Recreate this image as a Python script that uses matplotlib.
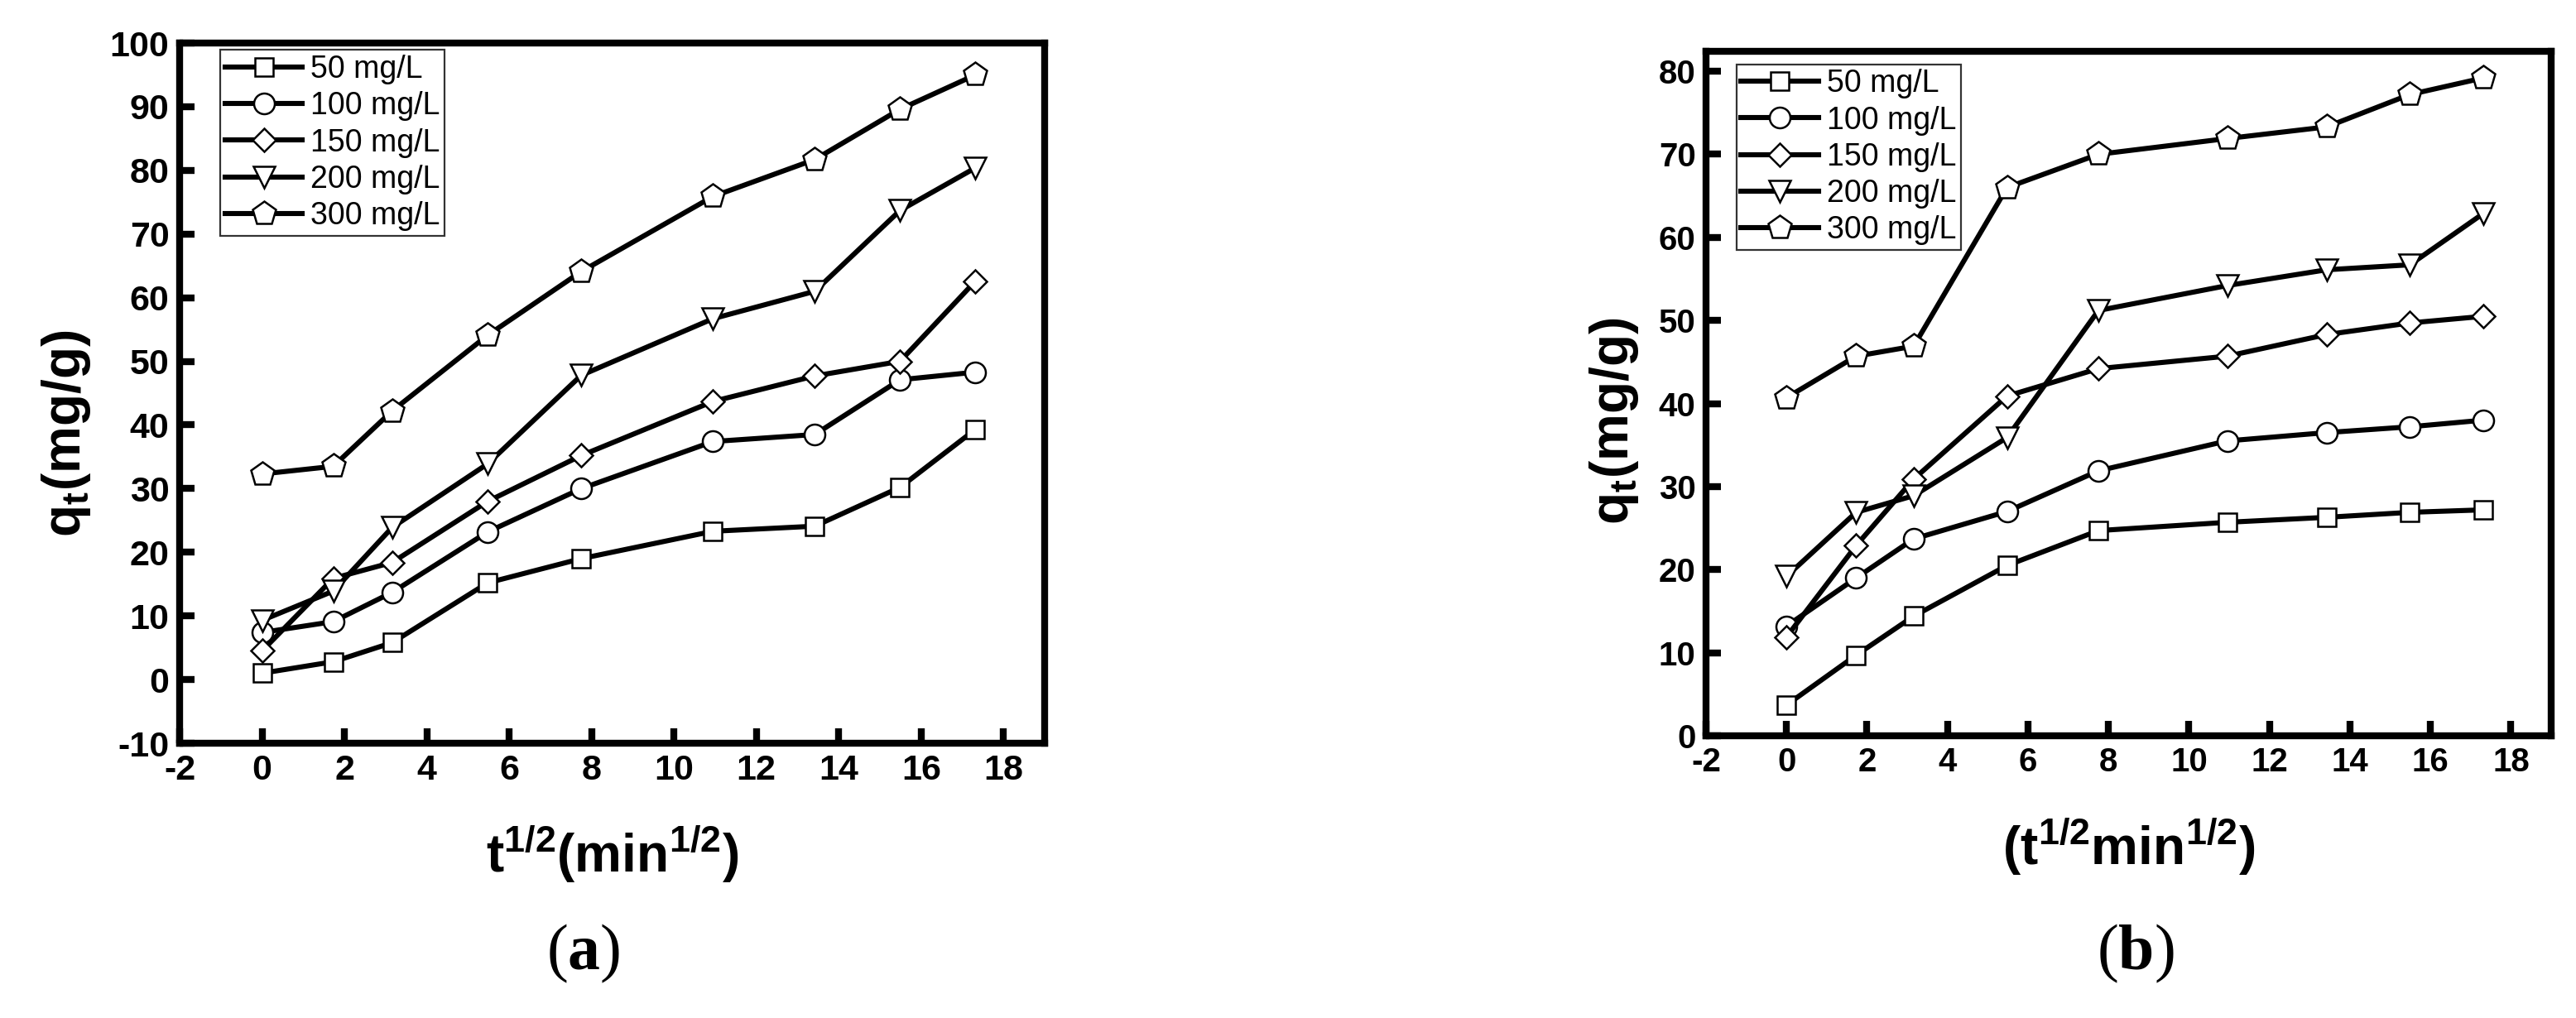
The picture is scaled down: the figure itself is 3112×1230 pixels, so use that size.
import matplotlib
matplotlib.use("Agg")
import matplotlib.pyplot as plt

# sqrt(t) sampling points (min^1/2)
sqrt_t = [0, 1.73, 3.16, 5.48, 7.75, 10.95, 13.42, 15.49, 17.32]

labels = ["50 mg/L", "100 mg/L", "150 mg/L", "200 mg/L", "300 mg/L"]
markers = ["s", "o", "D", "v", "p"]
msizes = [16, 18, 14, 19, 21]

# panel (a)
qa_50 = [1.0, 2.8, 5.8, 15.2, 19.0, 23.3, 24.1, 30.2, 39.3]
qa_100 = [7.4, 9.1, 13.7, 23.2, 30.0, 37.4, 38.5, 47.1, 48.3]
qa_150 = [4.5, 15.9, 18.4, 28.0, 35.2, 43.7, 47.7, 50.0, 62.6]
qa_200 = [9.3, 13.9, 23.9, 33.9, 47.8, 56.7, 61.0, 73.7, 80.4]
qa_300 = [32.3, 33.5, 42.2, 54.1, 64.1, 75.9, 81.7, 89.6, 95.0]

# panel (b)
qb_50 = [3.7, 9.7, 14.4, 20.5, 24.7, 25.7, 26.3, 26.9, 27.2]
qb_100 = [13.2, 19.0, 23.7, 27.0, 31.9, 35.5, 36.5, 37.2, 38.0]
qb_150 = [11.9, 22.9, 30.9, 40.9, 44.2, 45.7, 48.3, 49.7, 50.5]
qb_200 = [19.2, 26.9, 28.9, 35.9, 51.2, 54.2, 56.1, 56.7, 62.9]
qb_300 = [40.7, 45.7, 46.9, 66.0, 70.0, 71.9, 73.3, 77.2, 79.2]

plt.rcParams["font.family"] = ["Liberation Sans", "DejaVu Sans"]
plt.rcParams["axes.unicode_minus"] = False
plt.rcParams["mathtext.fontset"] = "custom"
plt.rcParams["mathtext.sf"] = "Liberation Sans:bold"
plt.rcParams["mathtext.rm"] = "Liberation Serif"
plt.rcParams["mathtext.bf"] = "Liberation Serif:bold"

W, H = 3112, 1230
fig = plt.figure(figsize=(W / 100, H / 100), dpi=100)


def px_axes(l, r, t, b):
    return [l / W, 1 - b / H, (r - l) / W, (b - t) / H]


def style_axes(ax, tick_fs):
    for side in ("top", "right", "bottom", "left"):
        ax.spines[side].set_linewidth(6.0)
        ax.spines[side].set_capstyle("projecting")
    ax.tick_params(axis="both", direction="in", length=13, width=6,
                   top=False, right=False, labelsize=tick_fs, pad=9)
    for lab in ax.get_xticklabels() + ax.get_yticklabels():
        lab.set_fontweight("bold")
    for ln in ax.xaxis.get_ticklines() + ax.yaxis.get_ticklines():
        ln.set_solid_capstyle("round")


def draw_panel(ax, series):
    for y, m, ms, lab in zip(series, markers, msizes, labels):
        ax.plot(sqrt_t, y, color="black", lw=4.4, marker=m, ms=ms,
                mfc="white", mec="black", mew=1.8, label=lab, zorder=3)


def add_legend(ax, anchor):
    leg = ax.legend(loc="upper left", bbox_to_anchor=anchor, fontsize=27,
                    frameon=True, fancybox=False, edgecolor="black",
                    borderaxespad=0, borderpad=0.15, labelspacing=0.22,
                    handlelength=2.5, handletextpad=0.25)
    leg.get_frame().set_linewidth(1.6)


# ----- panel (a) -----
ax_a = fig.add_axes(px_axes(217, 1262, 52, 898))
draw_panel(ax_a, [qa_50, qa_100, qa_150, qa_200, qa_300])
ax_a.set_xlim(-2, 19)
ax_a.set_ylim(-10, 100)
ax_a.set_xticks(range(-2, 19, 2))
ax_a.set_yticks(range(-10, 101, 10))
style_axes(ax_a, 31)
ax_a.set_xlabel(r"$\mathsf{t^{1/2}(min^{1/2})}$", fontsize=46)
ax_a.xaxis.set_label_coords(0.5, -0.115)
ax_a.set_ylabel(r"$\mathsf{q_t(mg/g)}$", fontsize=46)
ax_a.yaxis.set_label_coords(-0.10, 0.442)
add_legend(ax_a, (0.047, 0.99))

# ----- panel (b) -----
ax_b = fig.add_axes(px_axes(2061, 3082, 62, 889))
draw_panel(ax_b, [qb_50, qb_100, qb_150, qb_200, qb_300])
ax_b.set_xlim(-2, 19)
ax_b.set_ylim(0, 82.4)
ax_b.set_xticks(range(-2, 19, 2))
ax_b.set_yticks(range(0, 81, 10))
style_axes(ax_b, 29)
ax_b.set_xlabel(r"$\mathsf{(t^{1/2}min^{1/2})}$", fontsize=46)
ax_b.xaxis.set_label_coords(0.5, -0.118)
ax_b.set_ylabel(r"$\mathsf{q_t(mg/g)}$", fontsize=46)
ax_b.yaxis.set_label_coords(-0.077, 0.459)
add_legend(ax_b, (0.036, 0.981))

# panel captions
fig.text(705 / W, 1 - 1152 / H, r"$\mathrm{(}\mathbf{a}\mathrm{)}$",
         fontsize=56, ha="center", va="center")
fig.text(2580 / W, 1 - 1152 / H, r"$\mathrm{(}\mathbf{b}\mathrm{)}$",
         fontsize=56, ha="center", va="center")

fig.savefig("out.png", dpi=100, facecolor="white")
